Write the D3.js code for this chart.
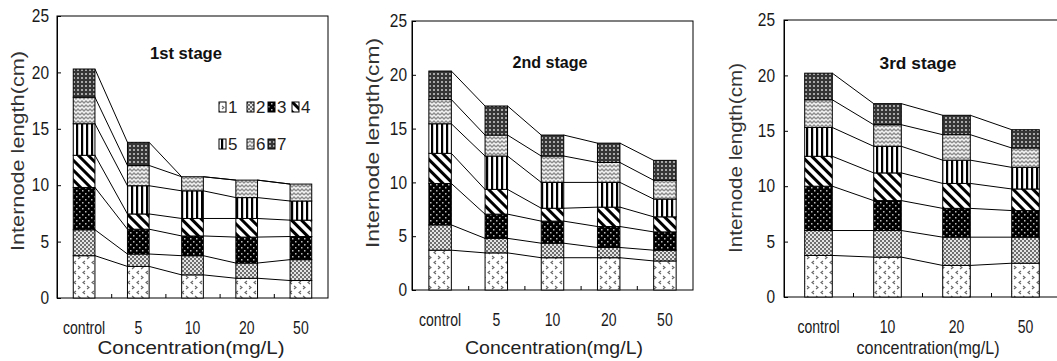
<!DOCTYPE html>
<html>
<head>
<meta charset="utf-8">
<script src="https://cdn.jsdelivr.net/npm/d3@7"></script>
<style>
  body { margin: 0; background: #fff; }
  svg { display: block; }
  .tick text { font-family: "Liberation Sans", Arial, sans-serif; fill: #1a1a1a; }
</style>
</head>
<body>
<div id="chart"></div>
<script>
const internodes = ["1", "2", "3", "4", "5", "6", "7"];
const stage1Cats = ["control", "5", "10", "20", "50"];
const stage2Cats = ["control", "5", "10", "20", "50"];
const stage3Cats = ["control", "10", "20", "50"];
const yTicks = [0, 5, 10, 15, 20, 25];

// length (cm) of each internode: rows = internode 1..7, columns = concentration
const stage1Values = [
  [3.75, 2.8, 2.05, 1.75, 1.55],
  [2.3, 1.1, 1.7, 1.35, 1.85],
  [3.75, 2.2, 1.75, 2.3, 2.05],
  [2.85, 1.35, 1.55, 1.65, 1.45],
  [2.8, 2.5, 2.45, 1.85, 1.7],
  [2.35, 1.8, 1.25, 1.55, 1.5],
  [2.5, 2.05, 0, 0, 0]
];
const stage2Values = [
  [3.7, 3.45, 3.0, 3.0, 2.7],
  [2.35, 1.35, 1.35, 0.95, 1.0],
  [3.85, 2.25, 2.05, 1.95, 1.7],
  [2.8, 2.3, 1.2, 1.8, 1.4],
  [2.75, 3.1, 2.4, 2.3, 1.65],
  [2.25, 1.95, 2.45, 1.85, 1.75],
  [2.65, 2.7, 1.95, 1.8, 1.85]
];
const stage3Values = [
  [3.75, 3.6, 2.85, 3.05],
  [2.25, 2.4, 2.55, 2.35],
  [4.0, 2.7, 2.6, 2.4],
  [2.7, 2.5, 2.25, 1.95],
  [2.6, 2.4, 2.1, 1.95],
  [2.5, 1.95, 2.3, 1.75],
  [2.4, 1.9, 1.75, 1.65]
];

const W = 1057, H = 361;
const svg = d3.select("#chart").append("svg").attr("width", W).attr("height", H);
const defs = svg.append("defs");

// fill patterns for the 7 internodes
function pat(id, w, h, draw, transform) {
  const p = defs.append("pattern").attr("id", id)
    .attr("patternUnits", "userSpaceOnUse").attr("width", w).attr("height", h);
  if (transform) p.attr("patternTransform", transform);
  draw(p);
}
pat("p1", 9, 10, p => {
  p.append("rect").attr("width", 9).attr("height", 10).attr("fill", "#fff");
  p.append("path").attr("d", "M4,1 L2,2.5 L4,4 M6,6 L8,7.5 L6,9")
    .attr("fill", "none").attr("stroke", "#666").attr("stroke-width", 1.1);
});
pat("p2", 4, 4, p => {
  p.append("rect").attr("width", 4).attr("height", 4).attr("fill", "#e4e4e4");
  p.append("rect").attr("width", 2).attr("height", 2).attr("fill", "#6e6e6e");
  p.append("rect").attr("x", 2).attr("y", 2).attr("width", 2).attr("height", 2).attr("fill", "#6e6e6e");
});
pat("p3", 6, 6, p => {
  p.append("rect").attr("width", 6).attr("height", 6).attr("fill", "#000");
  p.append("rect").attr("x", 1).attr("y", 1).attr("width", 1.5).attr("height", 1.5).attr("fill", "#bbb");
  p.append("rect").attr("x", 4).attr("y", 4).attr("width", 1.5).attr("height", 1.5).attr("fill", "#bbb");
});
pat("p4", 7, 7, p => {
  p.append("rect").attr("width", 7).attr("height", 7).attr("fill", "#fff");
  p.append("rect").attr("width", 3).attr("height", 7).attr("fill", "#000");
}, "rotate(-45)");
pat("p5", 5, 5, p => {
  p.append("rect").attr("width", 5).attr("height", 5).attr("fill", "#fff");
  p.append("rect").attr("x", 1).attr("width", 2.2).attr("height", 5).attr("fill", "#000");
});
pat("p6", 8, 8, p => {
  p.append("rect").attr("width", 8).attr("height", 8).attr("fill", "#f2f2f2");
  p.append("path").attr("d", "M0,3 L2,1 L4,3 L6,1 L8,3 M0,7 L2,5 L4,7 L6,5 L8,7")
    .attr("fill", "none").attr("stroke", "#8a8a8a").attr("stroke-width", 1.3);
});
pat("p7", 4, 4, p => {
  p.append("rect").attr("width", 4).attr("height", 4).attr("fill", "#363636");
  p.append("rect").attr("x", 1).attr("y", 1).attr("width", 2).attr("height", 2).attr("fill", "#a8a8a8");
});
const fills = internodes.map((d, i) => `url(#p${i + 1})`);

const panels = [
  { cats: stage1Cats, values: stage1Values, title: "1st stage",
    left: 57, top: 16, right: 328, bottom: 298, yPad: 8,
    yTitle: [17, 151, 200], xTitle: [191, 348, 187, "Concentration(mg/L)"], tTitle: [186, 53, 72] },
  { cats: stage2Cats, values: stage2Values, title: "2nd stage",
    left: 412, top: 21, right: 693, bottom: 290, yPad: 5,
    yTitle: [372, 143, 210], xTitle: [554, 348, 178, "Concentration(mg/L)"], tTitle: [550, 62, 75] },
  { cats: stage3Cats, values: stage3Values, title: "3rd stage",
    left: 784, top: 20, right: 1060, bottom: 297, yPad: 9,
    yTitle: [735, 158, 190], xTitle: [928, 348, 143, "concentration(mg/L)"], tTitle: [918, 63, 77] }
];

panels.forEach(cfg => {
  const g = svg.append("g");
  const rows = cfg.cats.map((c, j) => {
    const r = { cat: c };
    internodes.forEach((k, i) => r[k] = cfg.values[i][j]);
    return r;
  });
  const series = d3.stack().keys(internodes)(rows);

  const x = d3.scaleBand().domain(cfg.cats).range([cfg.left, cfg.right])
    .paddingInner(0.6).paddingOuter(0.3);
  const y = d3.scaleLinear().domain([0, 25]).range([cfg.bottom, cfg.top]);
  const xEdge = d3.scaleLinear().domain([0, cfg.cats.length]).range([cfg.left, cfg.right]);
  const bw = x.bandwidth();

  // frame
  g.append("rect").attr("x", cfg.left).attr("y", cfg.top)
    .attr("width", cfg.right - cfg.left).attr("height", cfg.bottom - cfg.top)
    .attr("fill", "none").attr("stroke", "#000").attr("stroke-width", 1);

  // connecting lines between bars
  series.forEach(s => {
    for (let j = 0; j < s.length - 1; j++) {
      g.append("line")
        .attr("x1", x(cfg.cats[j]) + bw).attr("y1", y(s[j][1]))
        .attr("x2", x(cfg.cats[j + 1])).attr("y2", y(s[j + 1][1]))
        .attr("stroke", "#000").attr("stroke-width", 1);
    }
  });

  // stacked bars
  g.selectAll(".layer").data(series).enter().append("g")
    .attr("fill", (d, i) => fills[i])
    .selectAll("rect").data(d => d).enter().append("rect")
    .attr("x", d => x(d.data.cat))
    .attr("y", d => y(d[1]))
    .attr("width", bw)
    .attr("height", d => y(d[0]) - y(d[1]))
    .attr("stroke", "#000").attr("stroke-width", 1);

  // y axis (inward ticks), labels squeezed like the original
  const ya = g.append("g").attr("transform", `translate(${cfg.left},0)`)
    .call(d3.axisLeft(y).tickValues(yTicks).tickSizeInner(-4).tickSizeOuter(0).tickPadding(cfg.yPad));
  ya.select(".domain").attr("stroke", "#000");
  ya.selectAll("text").style("font-size", "18px")
    .attr("x", 0).attr("transform", `translate(${-cfg.yPad},0) scale(0.86,1)`);

  // x axis: labels at band centres, ticks at band edges
  const xa = g.append("g").attr("transform", `translate(0,${cfg.bottom})`)
    .call(d3.axisBottom(x).tickSize(0).tickPadding(23));
  xa.select(".domain").remove();
  xa.selectAll("text").style("font-size", "18px").attr("transform", "scale(0.78,1)");
  const xe = g.append("g").attr("transform", `translate(0,${cfg.bottom})`)
    .call(d3.axisBottom(xEdge).tickValues(d3.range(1, cfg.cats.length)).tickSizeInner(-4).tickSizeOuter(0).tickFormat(""));
  xe.select(".domain").remove();

  // titles
  g.append("text")
    .attr("transform", `translate(${cfg.yTitle[0]},${cfg.yTitle[1]}) rotate(-90)`)
    .attr("text-anchor", "middle").attr("dy", "0.35em")
    .attr("textLength", cfg.yTitle[2]).attr("lengthAdjust", "spacingAndGlyphs")
    .style("font-family", "Liberation Sans, Arial, sans-serif").style("font-size", "19px")
    .style("fill", "#333").text("Internode length(cm)");
  g.append("text")
    .attr("x", cfg.xTitle[0]).attr("y", cfg.xTitle[1]).attr("dy", "0.35em")
    .attr("text-anchor", "middle")
    .attr("textLength", cfg.xTitle[2]).attr("lengthAdjust", "spacingAndGlyphs")
    .style("font-family", "Liberation Sans, Arial, sans-serif").style("font-size", "18px")
    .style("fill", "#222").text(cfg.xTitle[3]);
  g.append("text")
    .attr("x", cfg.tTitle[0]).attr("y", cfg.tTitle[1]).attr("dy", "0.35em")
    .attr("text-anchor", "middle")
    .attr("textLength", cfg.tTitle[2]).attr("lengthAdjust", "spacingAndGlyphs")
    .style("font-family", "Liberation Sans, Arial, sans-serif").style("font-size", "16px")
    .style("font-weight", "bold").style("fill", "#111").text(cfg.title);
});

// legend (first panel)
const legendPos = [[219, 107], [247, 107], [268, 107], [292, 107], [219, 144], [247, 144], [268, 144]];
const legend = svg.append("g");
internodes.forEach((k, i) => {
  const [lx, ly] = legendPos[i];
  legend.append("rect").attr("x", lx).attr("y", ly - 5).attr("width", 7).attr("height", 10)
    .attr("fill", fills[i]).attr("stroke", "#000").attr("stroke-width", 1);
  legend.append("text").attr("x", lx + 9).attr("y", ly).attr("dy", "0.35em")
    .style("font-family", "Liberation Sans, Arial, sans-serif").style("font-size", "17px")
    .style("fill", "#222").text(k);
});
</script>
</body>
</html>
